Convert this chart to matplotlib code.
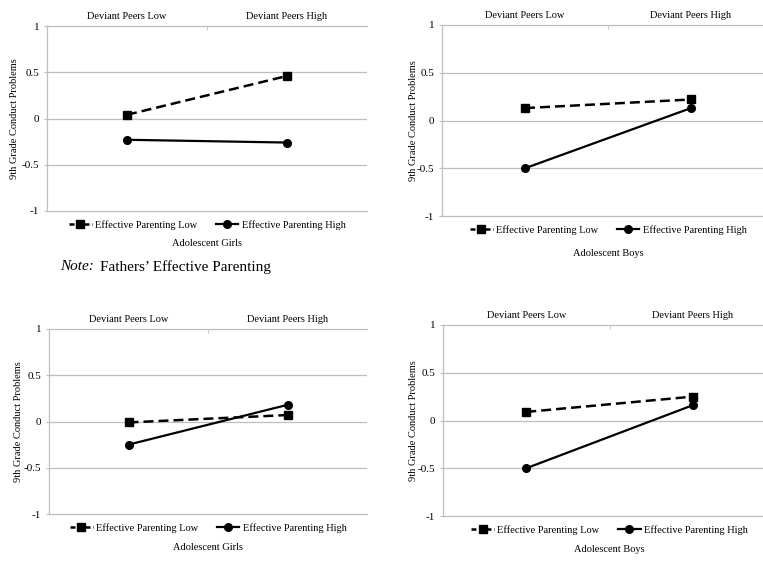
import matplotlib.pyplot as plt
from matplotlib.lines import Line2D

# === data ===
categories = ['Deviant Peers Low', 'Deviant Peers High']
series_names = ['Effective Parenting Low', 'Effective Parenting High']

girls_top_low = [0.04, 0.46]
girls_top_high = [-0.23, -0.26]
boys_top_low = [0.13, 0.22]
boys_top_high = [-0.50, 0.13]
girls_bot_low = [-0.01, 0.07]
girls_bot_high = [-0.25, 0.18]
boys_bot_low = [0.09, 0.25]
boys_bot_high = [-0.50, 0.16]

y_ticks = [1, 0.5, 0, -0.5, -1]
y_tick_labels = ['1', '0.5', '0', '-0.5', '-1']

plt.rcParams['font.family'] = ['Liberation Serif', 'DejaVu Serif']

W, H = 763, 562
fig = plt.figure(figsize=(W / 100, H / 100), dpi=100)
GRID = '#bfbfbf'


def panel(box, low, high, xlabel, xlabel_off, ylab_off):
    l, t, r, b = box
    ax = fig.add_axes([l / W, 1 - b / H, (r - l) / W, (b - t) / H])
    x = list(range(len(categories)))
    ax.plot(x, low, color='black', linestyle=(0, (4, 2)), linewidth=1.8,
            marker='s', markersize=5.5, zorder=5)
    ax.plot(x, high, color='black', linestyle='-', linewidth=1.6,
            marker='o', markersize=5.5, zorder=5)
    ax.set_xlim(-0.5, 1.5)
    ax.set_ylim(-1, 1)

    for v in [0.5, 0, -0.5]:
        ax.axhline(v, color=GRID, linewidth=0.9, zorder=1)
    for s in ['top', 'bottom', 'left']:
        ax.spines[s].set_color(GRID)
        ax.spines[s].set_linewidth(0.9)
    ax.spines['right'].set_visible(False)

    ax.set_yticks(y_ticks)
    ax.set_yticklabels(y_tick_labels)
    ax.tick_params(axis='y', length=2.5, color=GRID, labelsize=8, pad=3)

    ax.xaxis.tick_top()
    ax.set_xticks(x)
    ax.set_xticklabels(categories)
    ax.set_xticks([0.5], minor=True)
    ax.tick_params(axis='x', which='major', length=0, labelsize=7.5, pad=3.5)
    ax.tick_params(axis='x', which='minor', length=3, color=GRID, direction='in')

    ax.set_ylabel('9th Grade Conduct Problems', fontsize=7.5, va='center')
    ax.yaxis.set_label_coords(-ylab_off / (r - l), 0.5)

    handles = [
        Line2D([], [], color='black', linestyle=(0, (2, 1)), linewidth=1.8,
               marker='s', markersize=5.5),
        Line2D([], [], color='black', linestyle='-', linewidth=1.6,
               marker='o', markersize=5.5),
    ]
    ax.legend(handles, series_names, loc='upper center',
              bbox_to_anchor=(0.5, -0.01), ncol=2, frameon=False,
              fontsize=7.5, handlelength=2.2, handletextpad=0.3,
              columnspacing=1.8, borderpad=0.2)
    ax.text(0.5, -xlabel_off / (b - t), xlabel, transform=ax.transAxes,
            ha='center', va='center', fontsize=7.5)
    return ax


panel((47, 26, 367, 211), girls_top_low, girls_top_high, 'Adolescent Girls', 32, 32)
panel((442, 25, 774, 216), boys_top_low, boys_top_high, 'Adolescent Boys', 37, 29)
panel((49, 329, 367, 514), girls_bot_low, girls_bot_high, 'Adolescent Girls', 34, 30)
panel((443, 325, 776, 516), boys_bot_low, boys_bot_high, 'Adolescent Boys', 34, 30)

note_y = 1 - 267 / H
fig.text(60 / W, note_y, "Note:", fontsize=11, va='center', ha='left',
         style='italic')
fig.text(100 / W, note_y, "Fathers\u2019 Effective Parenting",
         fontsize=11, va='center', ha='left')

fig.savefig('out.png', dpi=100)
